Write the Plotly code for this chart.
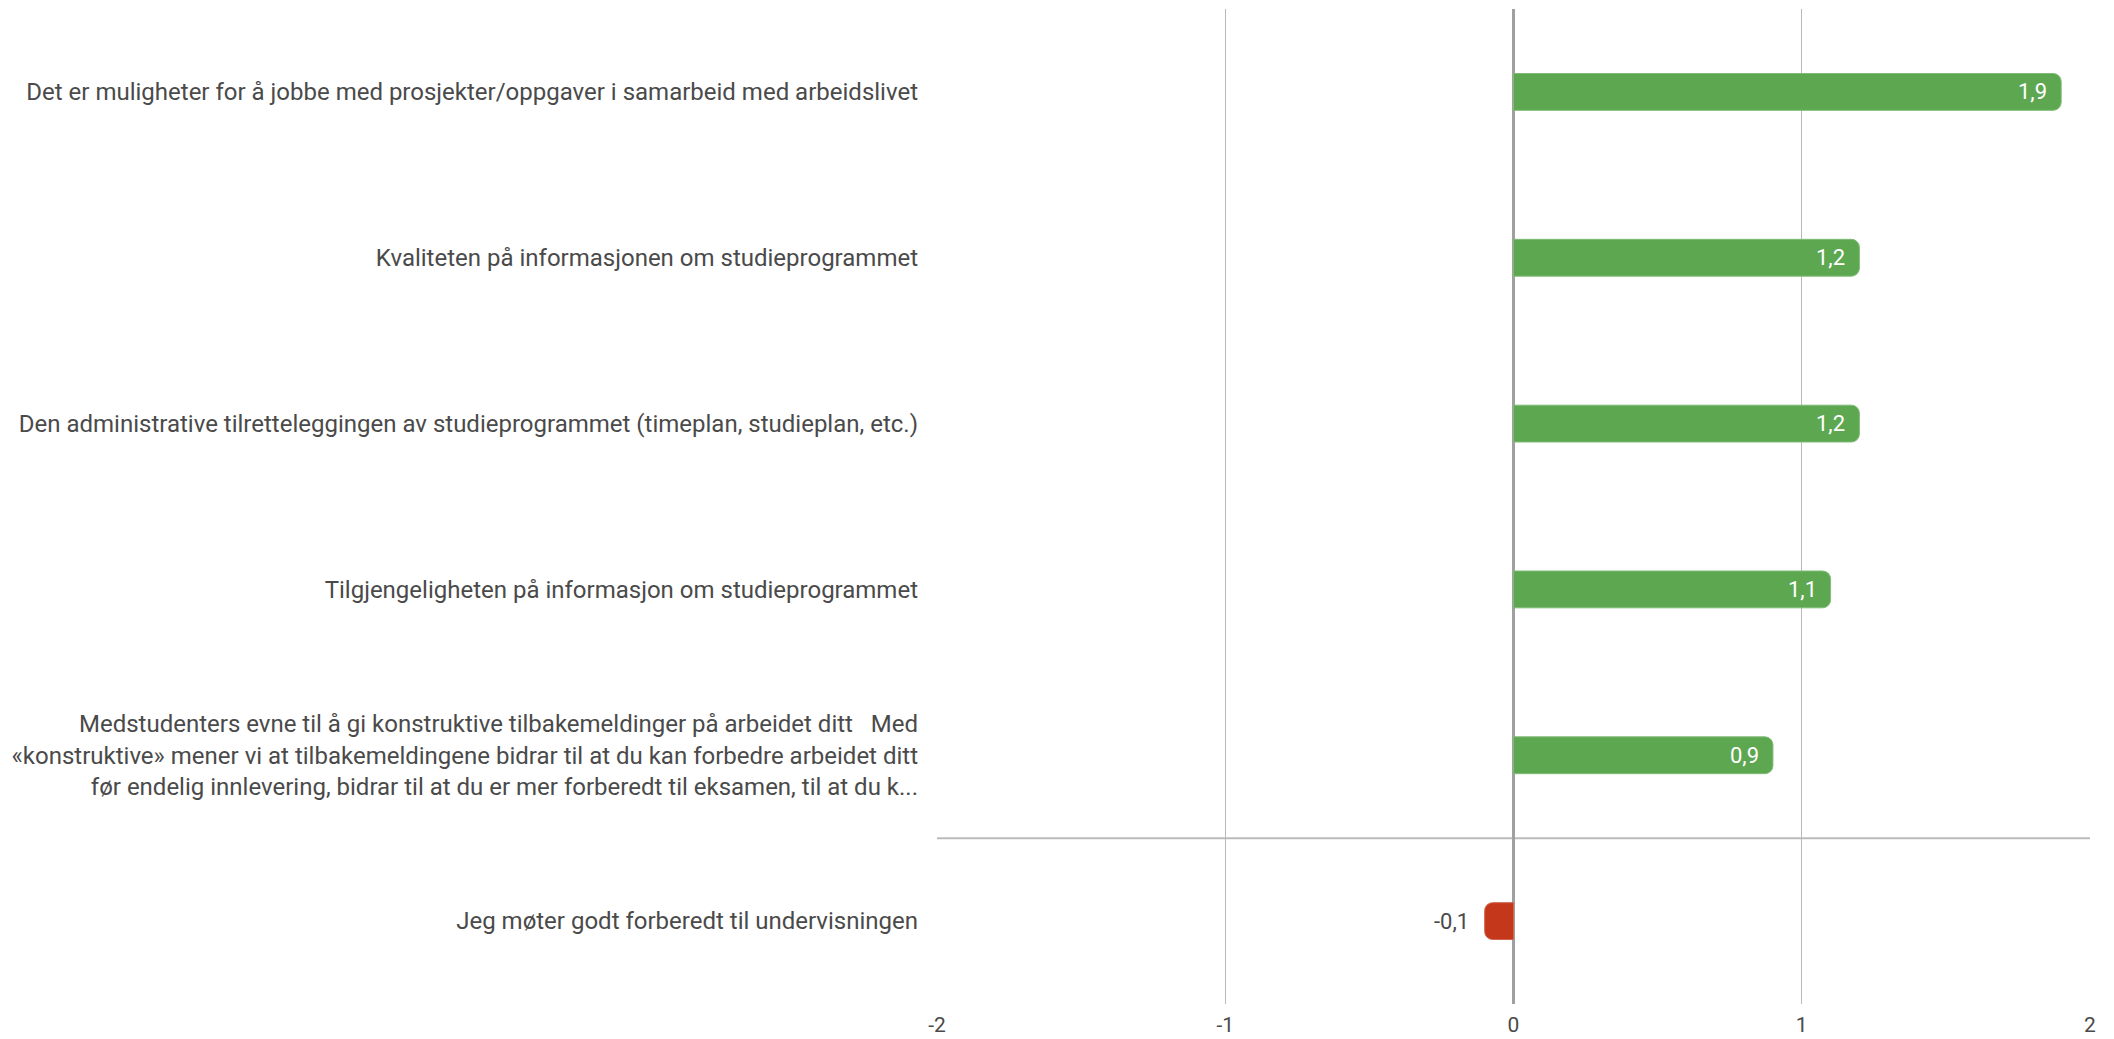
import plotly.graph_objects as go

categories = [
    "Det er muligheter for å jobbe med prosjekter/oppgaver i samarbeid med arbeidslivet",
    "Kvaliteten på informasjonen om studieprogrammet",
    "Den administrative tilretteleggingen av studieprogrammet (timeplan, studieplan, etc.)",
    "Tilgjengeligheten på informasjon om studieprogrammet",
    "Medstudenters evne til å gi konstruktive tilbakemeldinger på arbeidet ditt   Med<br>«konstruktive» mener vi at tilbakemeldingene bidrar til at du kan forbedre arbeidet ditt<br>før endelig innlevering, bidrar til at du er mer forberedt til eksamen, til at du k...",
    "Jeg møter godt forberedt til undervisningen",
]
values = [1.9, 1.2, 1.2, 1.1, 0.9, -0.1]
x_ticks = [-2, -1, 0, 1, 2]
x_tick_labels = ["-2", "-1", "0", "1", "2"]

GREEN = "#5da751"
GREEN_EDGE = "#7fbb75"
RED = "#c5371a"
RED_EDGE = "#d0644d"
TEXT = "#4a4a4a"

colors = [GREEN if v >= 0 else RED for v in values]
edges = [GREEN_EDGE if v >= 0 else RED_EDGE for v in values]

def fmt(v):
    return f"{v:.1f}".replace(".", ",")

fig = go.Figure()
fig.add_trace(go.Bar(
    y=categories,
    x=values,
    orientation="h",
    width=0.222,
    marker=dict(color=colors, line=dict(color=edges, width=1), cornerradius=8),
    hoverinfo="skip",
))

annotations = []
for cat, v in zip(categories, values):
    if v >= 0:
        annotations.append(dict(
            x=v, y=cat, xref="x", yref="y", text=fmt(v), showarrow=False,
            xanchor="right", xshift=-12, font=dict(color="white", size=22, family="Roboto"),
        ))
    else:
        annotations.append(dict(
            x=v, y=cat, xref="x", yref="y", text=fmt(v), showarrow=False,
            xanchor="right", xshift=-14, font=dict(color=TEXT, size=22, family="Roboto"),
        ))

fig.update_layout(
    width=2114,
    height=1039,
    margin=dict(l=937, r=24, t=9, b=35, autoexpand=False),
    paper_bgcolor="white",
    plot_bgcolor="white",
    font=dict(family="Roboto", size=22, color=TEXT),
    showlegend=False,
    annotations=annotations,
    shapes=[dict(
        type="line", xref="paper", yref="y", x0=0, x1=1, y0=4.5, y1=4.5,
        line=dict(color="#bbbbbb", width=2), layer="below",
    )],
    xaxis=dict(
        range=[-2, 2],
        tickvals=x_ticks,
        ticktext=x_tick_labels,
        showgrid=True,
        gridcolor="#b9b9b9",
        gridwidth=1,
        zeroline=True,
        zerolinecolor="#a0a0a0",
        zerolinewidth=2.5,
        showline=False,
        ticks="",
        ticklabelstandoff=6,
        tickfont=dict(size=21, color=TEXT),
        automargin=False,
        fixedrange=True,
    ),
    yaxis=dict(
        autorange="reversed",
        showgrid=False,
        zeroline=False,
        showline=False,
        ticks="",
        ticklabelstandoff=18,
        tickfont=dict(size=24, color=TEXT),
        automargin=False,
        fixedrange=True,
    ),
)

fig.write_html(
    "out.html",
    config={"displayModeBar": False},
    post_script="document.body.style.margin='0';document.body.style.overflow='hidden';",
)
